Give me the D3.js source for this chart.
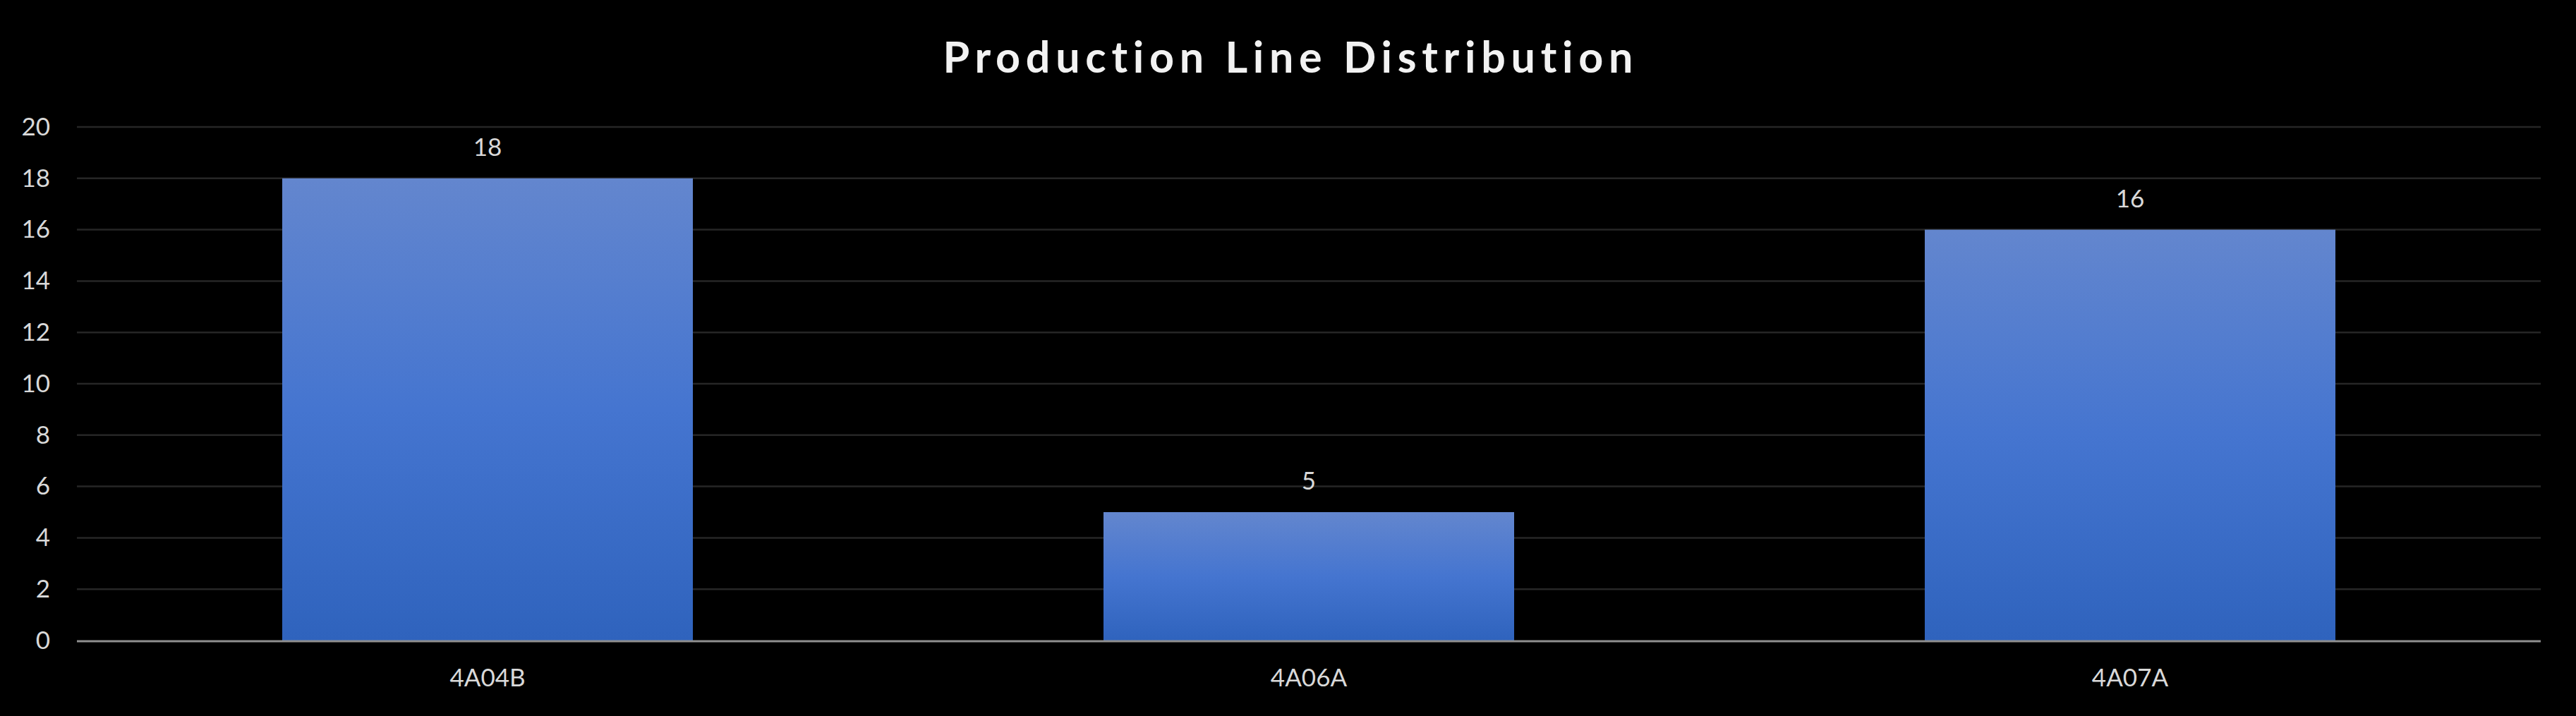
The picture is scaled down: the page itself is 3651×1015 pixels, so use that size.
<!DOCTYPE html>
<html>
<head>
<meta charset="utf-8">
<script src="https://cdn.jsdelivr.net/npm/d3@7"></script>
<style>
  html, body { margin: 0; padding: 0; background: #000; }
  svg { display: block; }
</style>
</head>
<body>
<svg id="chart" width="3651" height="1015"></svg>
<script>
const title = "Production Line Distribution";
const categories = ["4A04B", "4A06A", "4A07A"];
const values = [18, 5, 16];
const yTicks = [0, 2, 4, 6, 8, 10, 12, 14, 16, 18, 20];

const W = 3651, H = 1015;
const margin = { left: 109, right: 50, top: 180, bottom: 107 };
const plotW = W - margin.left - margin.right;
const plotH = H - margin.top - margin.bottom;

const svg = d3.select("#chart");
svg.append("rect").attr("width", W).attr("height", H).attr("fill", "#000");

const defs = svg.append("defs");
const grad = defs.append("linearGradient").attr("id", "barGrad")
  .attr("x1", 0).attr("y1", 0).attr("x2", 0).attr("y2", 1);
grad.append("stop").attr("offset", "0%").attr("stop-color", "#6386ce");
grad.append("stop").attr("offset", "50%").attr("stop-color", "#4575d0");
grad.append("stop").attr("offset", "100%").attr("stop-color", "#2f63bd");

const x = d3.scaleBand().domain(categories).range([0, plotW])
  .paddingInner(0.5).paddingOuter(0.25);
const y = d3.scaleLinear().domain([0, 20]).range([plotH, 0]);

const g = svg.append("g").attr("transform", `translate(${margin.left},${margin.top})`);

// gridlines
g.append("g").selectAll("line").data(yTicks.filter(d => d > 0)).join("line")
  .attr("x1", 0).attr("x2", plotW)
  .attr("y1", d => y(d)).attr("y2", d => y(d))
  .attr("stroke", "#262626").attr("stroke-width", 2.5);

// bars
g.append("g").selectAll("rect").data(values).join("rect")
  .attr("x", (d, i) => x(categories[i]))
  .attr("y", d => y(d))
  .attr("width", x.bandwidth())
  .attr("height", d => plotH - y(d))
  .attr("fill", "url(#barGrad)");

// data labels
g.append("g").selectAll("text").data(values).join("text")
  .attr("x", (d, i) => x(categories[i]) + x.bandwidth() / 2)
  .attr("y", d => y(d) - 32)
  .attr("text-anchor", "middle")
  .attr("font-family", "Lato, sans-serif")
  .attr("font-size", 35)
  .attr("fill", "#d9d9d9")
  .text(d => d);

// y axis
const yAxis = g.append("g")
  .call(d3.axisLeft(y).tickValues(yTicks).tickSize(0).tickPadding(38));
yAxis.select(".domain").remove();
yAxis.selectAll("text")
  .attr("font-family", "Lato, sans-serif")
  .attr("font-size", 35)
  .attr("fill", "#d9d9d9");

// x axis
const xAxis = g.append("g").attr("transform", `translate(0,${plotH})`)
  .call(d3.axisBottom(x).tickSize(0).tickPadding(40));
xAxis.select(".domain").remove();
xAxis.selectAll("text")
  .attr("font-family", "Lato, sans-serif")
  .attr("font-size", 35)
  .attr("fill", "#d9d9d9");

g.append("line")
  .attr("x1", 0).attr("x2", plotW)
  .attr("y1", plotH + 1).attr("y2", plotH + 1)
  .attr("stroke", "#8f8f8f").attr("stroke-width", 3);

// title
const t = svg.append("text")
  .attr("x", W / 2).attr("y", 103)
  .attr("text-anchor", "middle")
  .attr("font-family", "Lato, sans-serif")
  .attr("font-weight", "bold")
  .attr("font-size", 61)
  .attr("fill", "#f2f2f2")
  .text(title);
const targetW = 980;
const len = t.node().getComputedTextLength();
const ls = (targetW - len) / (title.length - 1);
t.attr("letter-spacing", ls);
// re-center accounting for trailing spacing
t.attr("x", W / 2 + ls / 2);
</script>
</body>
</html>
